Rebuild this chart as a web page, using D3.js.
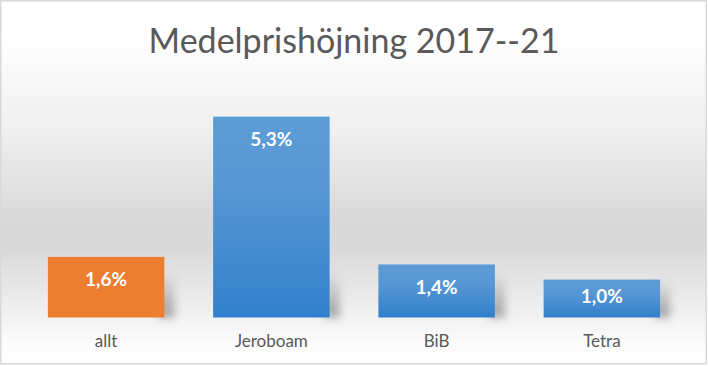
<!DOCTYPE html>
<html>
<head>
<meta charset="utf-8">
<script src="https://cdn.jsdelivr.net/npm/d3@7"></script>
<style>
  html, body { margin: 0; padding: 0; background: #ffffff; }
  svg { display: block; }
</style>
</head>
<body>
<svg id="chart" width="708" height="366"></svg>
<script>
const categories = ["allt", "Jeroboam", "BiB", "Tetra"];
const values = [1.6, 5.3, 1.4, 1.0];
const valueLabels = ["1,6%", "5,3%", "1,4%", "1,0%"];
const barKinds = ["orange", "blue", "blue", "blue"];
const titleText = "Medelprishöjning 2017--21";

const W = 708, H = 366;
const svg = d3.select("#chart");
const defs = svg.append("defs");

// background gradient
const bg = defs.append("linearGradient").attr("id", "bgGrad")
  .attr("x1", 0).attr("y1", 0).attr("x2", 0).attr("y2", 1);
[[0, "#ffffff"], [0.1, "#ffffff"], [0.35, "#f0f0f0"], [0.6, "#d9d9d9"],
 [0.68, "#d9d9d9"], [0.82, "#ebebeb"], [0.88, "#f3f3f3"], [0.95, "#fcfcfc"], [1, "#ffffff"]]
  .forEach(([o, c]) => bg.append("stop").attr("offset", o).attr("stop-color", c));

const blue = defs.append("linearGradient").attr("id", "blueGrad")
  .attr("x1", 0).attr("y1", 0).attr("x2", 0).attr("y2", 1);
blue.append("stop").attr("offset", 0).attr("stop-color", "#5c9cd6");
blue.append("stop").attr("offset", 0.35).attr("stop-color", "#5897d4");
blue.append("stop").attr("offset", 1).attr("stop-color", "#3180cc");

const shadowGrad = defs.append("linearGradient").attr("id", "shadowGrad")
  .attr("x1", 0).attr("y1", 0).attr("x2", 0).attr("y2", 1);
shadowGrad.append("stop").attr("offset", 0).attr("stop-color", "#000").attr("stop-opacity", 0);
shadowGrad.append("stop").attr("offset", 1).attr("stop-color", "#000").attr("stop-opacity", 0.35);

const blur = defs.append("filter").attr("id", "blur")
  .attr("x", "-50%").attr("y", "-50%").attr("width", "200%").attr("height", "200%");
blur.append("feGaussianBlur").attr("stdDeviation", 4);

svg.append("rect").attr("x", 0.75).attr("y", 0.75).attr("width", 705.5).attr("height", 363)
  .attr("fill", "url(#bgGrad)").attr("stroke", "#d9d9d9").attr("stroke-width", 1.5);

// title
svg.append("text").attr("x", W / 2).attr("y", 53).attr("text-anchor", "middle")
  .attr("font-family", "Lato, 'Open Sans', sans-serif").attr("font-weight", 400)
  .attr("font-size", 34).attr("fill", "#595959").text(titleText);

const x = d3.scaleBand().domain(categories).range([23.5, 684.5])
  .paddingInner(0.295).paddingOuter(0.1475);
const y = d3.scaleLinear().domain([0, 6]).range([317.5, 317.5 - 6 * 37.9]);

const data = categories.map((c, i) => ({ c, v: values[i], label: valueLabels[i], kind: barKinds[i] }));

// shadows
svg.append("g").selectAll("rect").data(data).join("rect")
  .attr("x", d => x(d.c) + x.bandwidth() - 6)
  .attr("y", d => y(0) - Math.min(y(0) - y(d.v), 45))
  .attr("width", 16)
  .attr("height", d => Math.min(y(0) - y(d.v), 45))
  .attr("fill", "url(#shadowGrad)")
  .attr("filter", "url(#blur)");

// bars
svg.append("g").selectAll("rect").data(data).join("rect")
  .attr("x", d => x(d.c))
  .attr("y", d => y(d.v))
  .attr("width", x.bandwidth())
  .attr("height", d => y(0) - y(d.v))
  .attr("fill", d => d.kind === "orange" ? "#ed7d31" : "url(#blueGrad)");

// value labels
svg.append("g").selectAll("text").data(data).join("text")
  .attr("x", d => x(d.c) + x.bandwidth() / 2)
  .attr("y", d => y(d.v) + Math.min(29.5, (y(0) - y(d.v)) * 0.62))
  .attr("text-anchor", "middle")
  .attr("font-family", "Lato, 'Open Sans', sans-serif").attr("font-weight", 700)
  .attr("font-size", 19).attr("fill", "#ffffff")
  .text(d => d.label);

// category axis labels
const axis = d3.axisBottom(x).tickSize(0).tickPadding(0);
const ax = svg.append("g").attr("transform", `translate(0, ${y(0)})`).call(axis);
ax.select(".domain").remove();
ax.selectAll("text")
  .attr("y", 29.5).attr("dy", 0)
  .attr("font-family", "Lato, 'Open Sans', sans-serif")
  .attr("font-size", 17).attr("fill", "#595959");
</script>
</body>
</html>
